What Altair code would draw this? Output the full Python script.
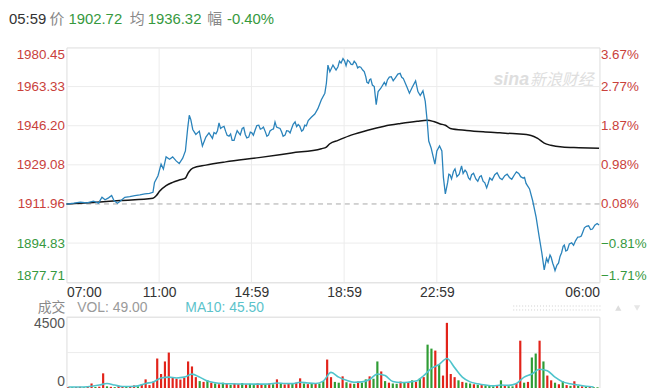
import altair as alt
import pandas as pd

# ---------------- data ----------------
prev_close = 1910.39

header_texts = ["05:59", "价", "1902.72", "均", "1936.32", "幅", "-0.40%"]
vol_title_texts = ["成交", "VOL: 49.00", "MA10: 45.50"]

x_tick_minutes = [0, 240, 479, 719, 959, 1380]
x_tick_labels = ["07:00", "11:00", "14:59", "18:59", "22:59", "06:00"]
x_grid_minutes = [240, 479, 719, 959]

y_ticks = [1877.71, 1894.83, 1911.96, 1929.08, 1946.20, 1963.33, 1980.45]
y_grid = [1894.83, 1929.08, 1946.20, 1963.33]
y_ref = [1911.96]

price_minutes = [
    0, 19, 36, 53, 70, 83, 92, 100, 109, 117,
    123, 132, 139, 151, 164, 177, 190, 203, 215, 224,
    228, 237, 245, 251, 258, 267, 275, 284, 292, 301,
    308, 314, 318, 322, 327, 335, 344, 352, 361, 369,
    378, 382, 387, 391, 395, 399, 403, 408, 412, 416,
    421, 425, 429, 434, 438, 442, 446, 450, 455, 459,
    463, 467, 472, 476, 480, 484, 489, 493, 498, 502,
    506, 510, 515, 519, 523, 527, 532, 536, 540, 544,
    549, 553, 557, 561, 566, 570, 575, 579, 583, 587,
    592, 596, 600, 604, 609, 613, 617, 621, 626, 634,
    643, 651, 660, 669, 673, 677, 682, 690, 698, 703,
    707, 711, 716, 720, 724, 728, 733, 737, 741, 745,
    750, 754, 758, 762, 767, 771, 775, 778, 782, 785,
    788, 792, 797, 802, 807, 814, 823, 827, 831, 836,
    841, 846, 852, 858, 864, 868, 872, 881, 888, 895,
    904, 910, 916, 923, 929, 934, 938, 944, 949, 954,
    959, 966, 972, 976, 981, 987, 990, 993, 997, 1002,
    1006, 1011, 1017, 1023, 1027, 1032, 1036, 1041, 1045, 1049,
    1054, 1060, 1065, 1070, 1074, 1079, 1083, 1088, 1092, 1096,
    1102, 1109, 1115, 1122, 1128, 1135, 1141, 1147, 1153, 1160,
    1165, 1171, 1176, 1182, 1186, 1190, 1199, 1207, 1216, 1224,
    1231, 1237, 1243, 1247, 1252, 1255, 1259, 1262, 1265, 1270,
    1274, 1278, 1282, 1286, 1289, 1293, 1297, 1302, 1308, 1313,
    1318, 1324, 1329, 1333, 1337, 1341, 1346, 1352, 1357, 1362,
    1368, 1374, 1379,
]
price_values = [
    1911.90, 1912.30, 1912.74, 1912.48, 1913.17, 1912.30, 1914.90, 1913.78, 1914.64, 1915.64,
    1913.47, 1912.30, 1913.17, 1914.90, 1915.21, 1915.64, 1915.94, 1916.37, 1916.64, 1917.07,
    1921.40, 1924.31, 1929.38, 1927.21, 1932.55, 1931.55, 1932.55, 1930.81, 1929.64, 1931.98,
    1935.15, 1945.25, 1950.75, 1948.89, 1944.55, 1942.38, 1943.82, 1937.31, 1941.22, 1943.08,
    1940.65, 1943.20, 1942.65, 1944.00, 1947.41, 1945.00, 1945.55, 1945.90, 1943.82, 1942.00,
    1941.65, 1942.60, 1939.79, 1939.80, 1942.08, 1944.00, 1943.08, 1942.20, 1944.99, 1945.40,
    1942.38, 1940.90, 1941.22, 1943.40, 1943.08, 1942.00, 1944.55, 1946.30, 1946.42, 1944.70,
    1944.99, 1945.60, 1943.51, 1941.60, 1942.08, 1943.90, 1944.55, 1944.80, 1947.85, 1945.60,
    1945.25, 1945.00, 1943.51, 1941.60, 1942.08, 1944.00, 1943.82, 1943.00, 1944.99, 1946.80,
    1947.85, 1945.80, 1946.72, 1946.00, 1943.82, 1944.40, 1946.42, 1946.10, 1948.45, 1949.89,
    1951.32, 1953.66, 1957.56, 1960.42, 1964.76, 1972.73, 1969.83, 1972.73, 1970.56, 1972.00,
    1974.47, 1973.60, 1975.59, 1974.60, 1972.43, 1974.90, 1974.16, 1973.00, 1972.99, 1974.40,
    1973.43, 1971.50, 1972.00, 1971.80, 1970.56, 1969.90, 1967.66, 1965.20, 1964.76, 1966.30,
    1966.66, 1964.00, 1963.33, 1955.39, 1961.16, 1962.59, 1965.19, 1963.90, 1966.23, 1967.50,
    1967.66, 1965.90, 1967.23, 1968.80, 1969.09, 1967.40, 1966.92, 1963.33, 1960.42, 1962.89,
    1965.80, 1961.16, 1959.42, 1961.46, 1956.82, 1948.15, 1939.48, 1936.58, 1932.98, 1929.38,
    1935.15, 1937.31, 1935.15, 1923.57, 1916.37, 1921.40, 1925.00, 1924.74, 1922.90, 1926.17,
    1927.30, 1923.87, 1925.00, 1928.65, 1925.30, 1926.78, 1925.90, 1923.31, 1922.60, 1924.74,
    1925.40, 1922.88, 1921.90, 1923.87, 1924.30, 1921.84, 1921.30, 1918.98, 1921.00, 1923.31,
    1922.40, 1924.74, 1925.60, 1923.31, 1922.60, 1924.31, 1925.00, 1923.57, 1922.80, 1924.74,
    1926.00, 1925.31, 1923.90, 1923.31, 1923.60, 1920.97, 1918.54, 1913.47, 1906.23, 1897.56,
    1890.36, 1883.12, 1888.20, 1886.50, 1889.63, 1888.60, 1886.03, 1884.60, 1882.82, 1885.20,
    1886.03, 1889.00, 1890.62, 1893.40, 1893.96, 1891.40, 1891.79, 1894.50, 1894.96, 1893.90,
    1895.83, 1897.50, 1897.56, 1897.90, 1899.73, 1901.50, 1902.20, 1902.40, 1900.77, 1901.00,
    1902.63, 1903.40, 1902.72,
]

avg_minutes = [
    0, 70, 139, 224, 233, 241, 258, 275, 292, 308,
    316, 327, 361, 412, 498, 583, 660, 673, 682, 703,
    737, 780, 823, 865, 908, 934, 951, 968, 981, 994,
    1036, 1079, 1122, 1165, 1203, 1220, 1237, 1254, 1284, 1327,
    1379,
]
avg_values = [
    1911.90, 1912.61, 1913.47, 1914.47, 1915.64, 1917.50, 1919.97, 1921.40, 1922.44, 1923.31,
    1925.74, 1927.65, 1928.95, 1930.38, 1932.24, 1934.28, 1936.14, 1936.88, 1938.31, 1939.79,
    1942.08, 1944.25, 1945.99, 1947.16, 1948.15, 1948.59, 1948.02, 1946.98, 1946.42, 1944.99,
    1944.12, 1943.51, 1943.08, 1942.65, 1941.95, 1940.65, 1938.61, 1937.62, 1936.88, 1936.60,
    1936.32,
]

vol_minutes = list(range(5, 1380, 10))
vol_values = [
    80, 60, 70, 90, 60, 120, 300, 80, 100, 940,
    120, 90, 70, 150, 90, 110, 80, 180, 120, 250,
    560, 200, 420, 1875, 900, 1690, 2250, 700, 600, 550,
    650, 1690, 1375, 700, 450, 400, 500, 350, 300, 250,
    350, 280, 220, 300, 260, 330, 240, 280, 200, 310,
    260, 230, 300, 250, 560, 280, 240, 320, 270, 350,
    625, 300, 260, 280, 330, 300, 450, 1810, 700, 400,
    350, 750, 380, 300, 280, 420, 350, 560, 750, 600,
    1690, 1060, 450, 350, 300, 280, 420, 350, 330, 500,
    400, 620, 700, 2750, 2500, 2375, 1500, 800, 4125, 900,
    700, 500, 400, 350, 300, 250, 220, 200, 180, 150,
    120, 150, 500, 150, 130, 120, 300, 3000, 350, 400,
    1940, 2190, 3000, 1690, 800, 500, 350, 250, 440, 200,
    150, 440, 150, 120, 100, 80, 70, 60,
]
vol_dir = list(
    "RGRRGRRGRR"
    "GRGRRGRRGR"
    "RRRRRRRRRR"
    "RRRRGRGRGR"
    "GRGRRGRGGR"
    "RGRGRGRRGR"
    "RGRGRGGRRG"
    "GRGRGRGGRG"
    "GRGRGGRGRG"
    "RGRGGRGRRR"
    "RGRGGRGRGG"
    "GRGRGGRRGR"
    "GGRGRRGRGR"
    "GRGRGRGG"
)

ma_minutes = list(range(5, 1380, 20))
ma_values = [
    80, 75, 80, 120, 200, 300, 200, 110, 110, 150,
    300, 400, 650, 700, 650, 700, 890, 700, 450, 350,
    300, 280, 270, 270, 260, 260, 270, 330, 300, 290,
    380, 330, 300, 450, 1000, 700, 500, 380, 400, 550,
    900, 800, 420, 360, 380, 450, 800, 1250, 1500, 1875,
    1300, 700, 400, 280, 200, 150, 200, 180, 300, 700,
    900, 1200, 1100, 700, 400, 280, 200, 130, 80,
]
vol_ticks = [0, 4500]
vol_grid = [2250, 4500]

# ---------------- style ----------------
FONT = "Liberation Sans, Arial, 'Noto Sans CJK SC', sans-serif"
RED = "#c9413b"
GREEN = "#36993e"
BLUE = "#2a83bb"
CYAN = "#4fc4cc"
VRED = "#e2231a"
VGREEN = "#2f9c34"
GRID = "#ececec"
W, H, VH = 538, 237, 72

x_scale = alt.Scale(domain=[0, 1380], nice=False, zero=False)
y_scale = alt.Scale(domain=[y_ticks[0], y_ticks[-1]], nice=False, zero=False)

label_expr = " : ".join(
    f"datum.value == {m} ? '{t}'" for m, t in zip(x_tick_minutes, x_tick_labels)
) + " : ''"

x_axis = alt.Axis(
    values=x_tick_minutes, labelExpr=label_expr, title=None, grid=False,
    ticks=False, domain=True, domainColor="#e4e4e4", labelFlush=True,
    labelFont=FONT, labelFontSize=14, labelColor="#333333", labelPadding=3,
)
left_axis = alt.Axis(
    values=y_ticks, format=".2f", title=None, grid=False, ticks=False,
    domain=False, labelFlush=True, labelFont=FONT, labelFontSize=13.5,
    labelPadding=2,
    labelColor={"condition": {"test": "datum.value >= 1911", "value": RED}, "value": GREEN},
)
right_axis = alt.Axis(
    values=y_ticks, orient="right", title=None, grid=False, ticks=False,
    domain=False, labelFlush=True, labelFont=FONT, labelFontSize=13.5,
    labelPadding=1,
    labelExpr=f"format((datum.value / {prev_close} - 1) * 100, '.2f') + '%'",
    labelColor={"condition": {"test": f"datum.value >= {prev_close}", "value": RED}, "value": GREEN},
)


def txt(text, x, y, color, size=15, **kw):
    return alt.Chart(pd.DataFrame({"t": [text]})).mark_text(
        align="left", baseline="middle", font=FONT, fontSize=size, color=color, **kw
    ).encode(x=alt.value(x), y=alt.value(y), text="t:N")


price_df = pd.DataFrame({"m": price_minutes, "p": price_values})
avg_df = pd.DataFrame({"m": avg_minutes, "p": avg_values})

hgrid = alt.Chart(pd.DataFrame({"p": y_grid})).mark_rule(color=GRID, strokeWidth=1).encode(
    y=alt.Y("p:Q", scale=y_scale, axis=None)
)
vgrid = alt.Chart(pd.DataFrame({"m": x_grid_minutes})).mark_rule(color=GRID, strokeWidth=1).encode(
    x=alt.X("m:Q", scale=x_scale, axis=x_axis)
)
ref = alt.Chart(pd.DataFrame({"p": y_ref})).mark_rule(
    color="#a8a8a8", strokeWidth=1, strokeDash=[5, 4]
).encode(y=alt.Y("p:Q", scale=y_scale, axis=None))

avg_line = alt.Chart(avg_df).mark_line(color="#151515", strokeWidth=1.5, interpolate="monotone").encode(
    x=alt.X("m:Q", scale=x_scale, axis=x_axis),
    y=alt.Y("p:Q", scale=y_scale, axis=right_axis),
)
price_line = alt.Chart(price_df).mark_line(color=BLUE, strokeWidth=1.3).encode(
    x=alt.X("m:Q", scale=x_scale, axis=x_axis),
    y=alt.Y("p:Q", scale=y_scale, axis=left_axis),
)

header_x = [-58, -17, 2, 64, 82, 142, 162]
header_colors = ["#333333", "#888888", GREEN, "#888888", GREEN, "#888888", GREEN]
header_layers = [
    txt(t, hx, -29, c) for t, hx, c in zip(header_texts, header_x, header_colors)
]

wm1 = txt("sina", 431, 33, "#dedede", size=18, fontStyle="italic", fontWeight="bold")
wm2 = txt("新浪财经", 468, 33, "#dedede", size=16, fontStyle="italic")

price_chart = alt.layer(
    hgrid, vgrid, ref, wm1, wm2, avg_line, price_line, *header_layers
).resolve_scale(y="independent").properties(width=W, height=H)

# ---------------- volume ----------------
vx_scale = alt.Scale(domain=[0, 1380], nice=False, zero=False)
vy_scale = alt.Scale(domain=[0, 4500], nice=False, zero=True)
vol_axis = alt.Axis(
    values=vol_ticks, format="d", title=None, grid=False, ticks=False,
    domain=False, labelFlush=True, labelFont=FONT, labelFontSize=14,
    labelColor="#555555", labelPadding=2,
)

vol_df = pd.DataFrame({"m": vol_minutes, "v": vol_values, "d": vol_dir})
ma_df = pd.DataFrame({"m": ma_minutes, "v": ma_values})

vgrid2 = alt.Chart(pd.DataFrame({"v": vol_grid})).mark_rule(color=GRID).encode(
    y=alt.Y("v:Q", scale=vy_scale, axis=vol_axis)
)
bars = alt.Chart(vol_df).mark_rule(strokeWidth=2.2).encode(
    x=alt.X("m:Q", scale=vx_scale, axis=None),
    y=alt.Y("v:Q", scale=vy_scale, axis=vol_axis),
    y2=alt.datum(0),
    color=alt.Color("d:N", scale=alt.Scale(domain=["R", "G"], range=[VRED, VGREEN]), legend=None),
)
ma_line = alt.Chart(ma_df).mark_line(color=CYAN, strokeWidth=1.6, interpolate="monotone").encode(
    x=alt.X("m:Q", scale=vx_scale, axis=None),
    y=alt.Y("v:Q", scale=vy_scale, axis=vol_axis),
)
vt_x = [-29, 11, 120]
vt_colors = ["#8a8a8a", "#9a9a9a", "#5cc3cb"]
vol_titles = [txt(t, vx, -9, c, size=14) for t, vx, c in zip(vol_title_texts, vt_x, vt_colors)]

dots1 = alt.Chart(pd.DataFrame({"a": [0]})).mark_rule(color="#cfcfcf", strokeDash=[1, 2]).encode(
    x=alt.value(451), x2=alt.value(541), y=alt.value(-11)
)
dots2 = alt.Chart(pd.DataFrame({"a": [0]})).mark_rule(color="#cfcfcf", strokeDash=[1, 2]).encode(
    x=alt.value(451), x2=alt.value(541), y=alt.value(-7)
)
tri_up = alt.Chart(pd.DataFrame({"a": [0]})).mark_point(
    shape="triangle-up", filled=True, color="#dddddd", size=40, opacity=1
).encode(x=alt.value(557), y=alt.value(-9))
tri_dn = alt.Chart(pd.DataFrame({"a": [0]})).mark_point(
    shape="triangle-down", filled=True, color="#e6e6e6", size=40, opacity=1
).encode(x=alt.value(576), y=alt.value(-9))

vol_chart = alt.layer(
    vgrid2, bars, ma_line, *vol_titles, dots1, dots2, tri_up, tri_dn
).properties(width=W, height=VH)

chart = alt.vconcat(price_chart, vol_chart, spacing=0).properties(
    padding={"left": 0, "top": 1, "right": 0, "bottom": 0}
).configure_view(strokeWidth=0).configure(background="white")

chart.save("out.html", embed_options={"renderer": "svg", "actions": False})
